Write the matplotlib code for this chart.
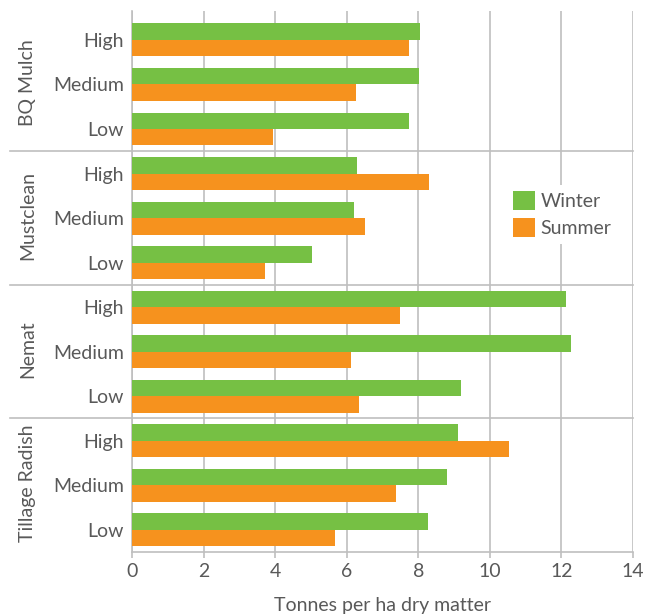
import numpy as np
import matplotlib
matplotlib.use("Agg")
from matplotlib import pyplot as plt

# cover crop dry matter yields
groups = ["BQ Mulch", "Mustclean", "Nemat", "Tillage Radish"]
levels = ["High", "Medium", "Low"]
winter = [8.05, 8.03, 7.75,
          6.29, 6.19, 5.04,
          12.12, 12.26, 9.20,
          9.12, 8.81, 8.28]
summer = [7.73, 6.25, 3.93,
          8.30, 6.52, 3.71,
          7.50, 6.13, 6.33,
          10.53, 7.38, 5.68]
xticks = [0, 2, 4, 6, 8, 10, 12, 14]

green = "#76c044"
orange = "#f6921e"
grey_txt = "#595959"
grey_line = "#bfbfbf"

plt.rcParams['font.family'] = ['Lato', 'DejaVu Sans']

fig = plt.figure(figsize=(6.46, 6.16), dpi=100)
ax = fig.add_axes([132 / 646, 64 / 616, 501 / 646, 541 / 616])

n = len(winter)
y = np.arange(n)
h = 0.37
ax.barh(y - h / 2, winter, height=h, color=green, label="Winter", zorder=3)
ax.barh(y + h / 2, summer, height=h, color=orange, label="Summer", zorder=3)

ax.set_xlim(0, 14)
ax.set_ylim(n - 0.5, -0.65)
ax.set_xticks(xticks)
ax.set_xticklabels([str(t) for t in xticks])
ax.set_yticks(y)
ax.set_yticklabels(levels * len(groups))

ax.grid(axis="x", color=grey_line, linewidth=1.2, zorder=0)
for s in ["top", "right"]:
    ax.spines[s].set_visible(False)
for s in ["left", "bottom"]:
    ax.spines[s].set_color(grey_line)
    ax.spines[s].set_linewidth(1.2)
ax.tick_params(axis="x", colors=grey_line, labelcolor=grey_txt, labelsize=14,
               length=4, width=1.2, pad=4)
ax.tick_params(axis="y", length=0, labelcolor=grey_txt, labelsize=14, pad=6)

# group separators reaching out under the group names
for k in range(1, len(groups)):
    ax.axhline(k * 3 - 0.5, xmin=-0.243, xmax=1.0, color=grey_line,
               linewidth=1.2, clip_on=False, zorder=2)

# rotated group names
for k, g in enumerate(groups):
    ax.text(-0.208, k * 3 + 0.95, g, transform=ax.get_yaxis_transform(),
            rotation=90, ha="center", va="center", fontsize=14, color=grey_txt)

ax.set_xlabel("Tonnes per ha dry matter", fontsize=14, color=grey_txt, labelpad=12)

leg = ax.legend(loc="upper left", bbox_to_anchor=(0.728, 0.697), frameon=True,
                fontsize=14, handlelength=1.1, handleheight=1.1,
                handletextpad=0.3, labelspacing=0.4, borderpad=0.35)
leg.get_frame().set_edgecolor("none")
leg.get_frame().set_facecolor("white")
leg.get_frame().set_alpha(1)
for t in leg.get_texts():
    t.set_color(grey_txt)

plt.savefig("out.png", dpi=100)
